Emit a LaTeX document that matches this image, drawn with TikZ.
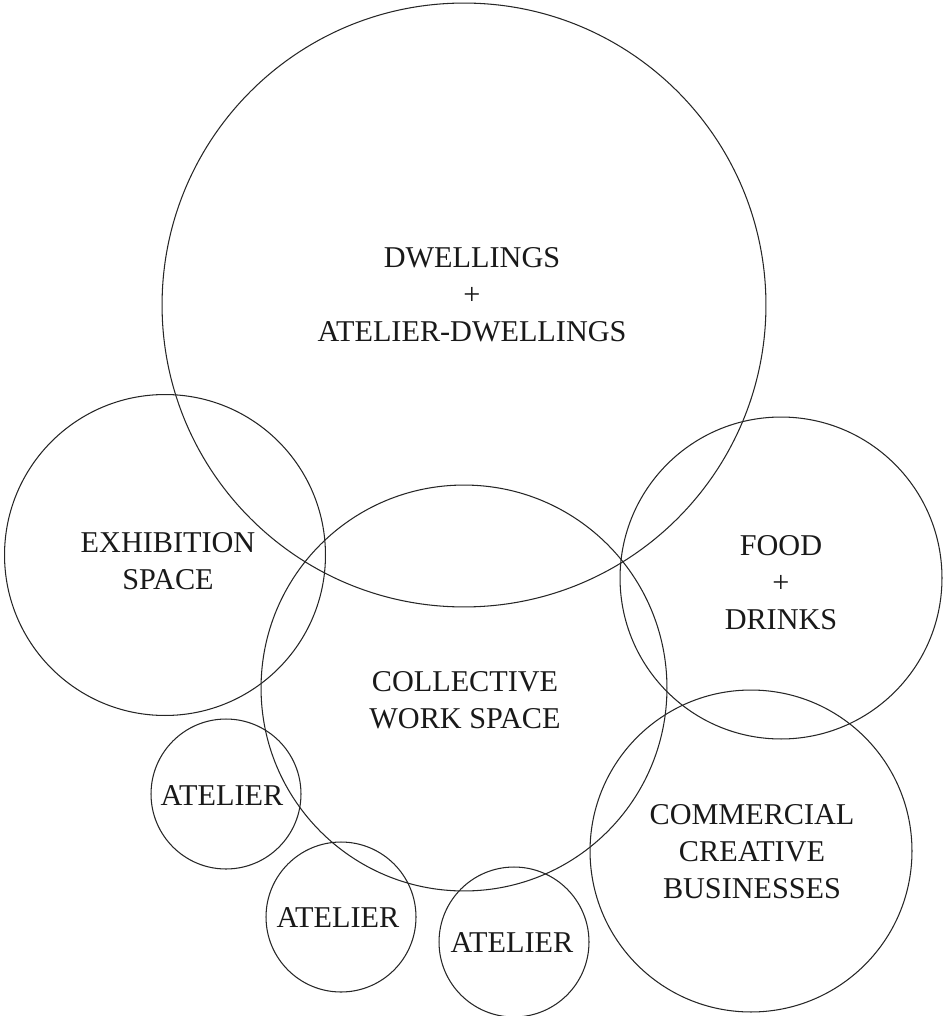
\documentclass[tikz,border=0pt]{standalone}
\usepackage{fontspec}
\setmainfont{Liberation Serif}
\usepackage{tikz}

\tikzset{
  area/.style={shape=circle,draw=black!85,line width=0.6pt,inner sep=0pt},
  lbl/.style={align=center,text=black!90,font=\fontsize{17.2}{21}\selectfont}
}

\begin{document}
\begin{tikzpicture}[x=0.02cm,y=-0.02cm]
\useasboundingbox (0,0) rectangle (943,1016);
% circles (diameter in cm)
\path (464,305) node (dwell) [area,minimum size=12.08cm] {};
\path (165,555) node (expo) [area,minimum size=6.42cm] {};
\path (464,688) node (work) [area,minimum size=8.12cm] {};
\path (781,578) node (food) [area,minimum size=6.44cm] {};
\path (751,851) node (comm) [area,minimum size=6.44cm] {};
\path (226,794) node (atA) [area,minimum size=3.0cm] {};
\path (341,917) node (atB) [area,minimum size=3.0cm] {};
\path (514,942) node (atC) [area,minimum size=3.0cm] {};

% texts
\path (472,295) node (dwelltxt) [lbl] {DWELLINGS\\+\\ATELIER-DWELLINGS};
\path (168,561) node (expotxt) [lbl] {EXHIBITION\\SPACE};
\path (465,700) node (worktxt) [lbl] {COLLECTIVE\\WORK SPACE};
\path (781,583) node (foodtxt) [lbl] {FOOD\\+\\DRINKS};
\path (752,852) node (commtxt) [lbl] {COMMERCIAL\\CREATIVE\\BUSINESSES};
\path (222,796) node (atAtxt) [lbl] {ATELIER};
\path (338,918) node (atBtxt) [lbl] {ATELIER};
\path (512,943) node (atCtxt) [lbl] {ATELIER};

\end{tikzpicture}
\end{document}
